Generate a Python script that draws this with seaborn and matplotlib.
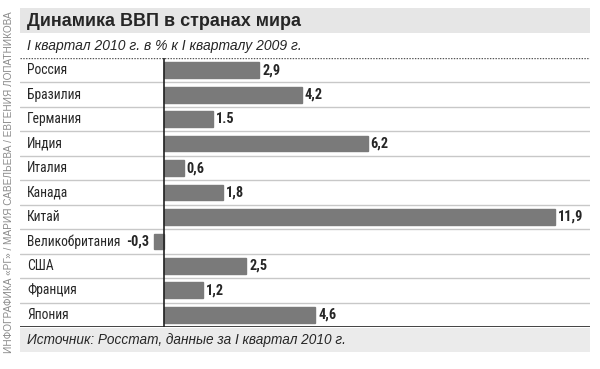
import pandas as pd
import matplotlib
matplotlib.use("Agg")
from matplotlib import pyplot as plt
from matplotlib import font_manager
from matplotlib.patches import Rectangle
import seaborn as sns

# data
countries = ["Россия", "Бразилия", "Германия", "Индия", "Италия", "Канада",
             "Китай", "Великобритания", "США", "Франция", "Япония"]
growth = [2.9, 4.2, 1.5, 6.2, 0.6, 1.8, 11.9, -0.3, 2.5, 1.2, 4.6]
value_labels = ["2,9", "4,2", "1.5", "6,2", "0,6", "1,8", "11,9", "-0,3", "2,5", "1,2", "4,6"]

title = "Динамика ВВП в странах мира"
subtitle = "I квартал 2010 г. в % к I кварталу 2009 г."
source = "Источник: Росстат, данные за I квартал 2010 г."
credit = "ИНФОГРАФИКА «РГ» / МАРИЯ САВЕЛЬЕВА / ЕВГЕНИЯ ЛОПАТНИКОВА"

df = pd.DataFrame({"country": countries, "growth": growth})

sns.set_style("white")
plt.rcParams["font.family"] = ["Liberation Sans", "DejaVu Sans"]

# look for a condensed face, else fall back to a smaller regular one
installed = {f.name for f in font_manager.fontManager.ttflist}
narrow_name = None
for cand in ["Liberation Sans Narrow", "Roboto Condensed", "Open Sans Condensed",
             "DejaVu Sans Condensed", "Noto Sans Condensed"]:
    if cand in installed:
        narrow_name = cand
        break
if narrow_name:
    narrow = [narrow_name, "Liberation Sans", "DejaVu Sans"]
    lab_size, val_size = 9.8, 10.3
else:
    narrow = ["Liberation Sans", "DejaVu Sans"]
    lab_size, val_size = 8.6, 8.6

W, H = 600, 369
fig = plt.figure(figsize=(6, 3.69), dpi=100)

def fx(px):
    return px / W

def fy(py):
    return 1 - py / H

# background bands
fig.patches.append(Rectangle((fx(20), fy(33)), fx(570), 25 / H, transform=fig.transFigure,
                             facecolor="#e6e6e6", edgecolor="none", zorder=0))
fig.patches.append(Rectangle((fx(20), fy(352)), fx(570), 24 / H, transform=fig.transFigure,
                             facecolor="#ebebeb", edgecolor="none", zorder=0))

fig.text(fx(27), fy(21), title, fontsize=13, fontweight="bold", va="center", ha="left")
fig.text(fx(27), fy(46), subtitle, fontsize=10, style="italic", va="center", ha="left")
fig.text(fx(27), fy(340), source, fontsize=9.8, style="italic", va="center", ha="left")
fig.text(fx(9), fy(182), credit, fontsize=7.2, color="#8a8a8a", rotation=90,
         va="center", ha="center")

# chart area: rows from y=58 to y=327, zero at x=164
ax = fig.add_axes([fx(20), fy(327), fx(570), 269 / H])
sns.barplot(data=df, x="growth", y="country", orient="h", color="#7a7a7a",
            saturation=1, width=0.64, edgecolor="#7a7a7a", ax=ax)

scale = 570 / 17.35
ax.set_xlim(-(164 - 20) / scale, -(164 - 20) / scale + 17.35)
ax.set_ylim(len(countries) - 0.5, -0.5)
ax.set_xlabel("")
ax.set_ylabel("")
ax.set_xticks([])
ax.set_yticks([])
for s in ax.spines.values():
    s.set_visible(False)

for i in range(len(countries) - 1):
    ax.axhline(i + 0.5, color="#c8c8c8", lw=1, zorder=0)
ax.axhline(-0.5, color="#555555", lw=1, ls=(0, (1, 1)), zorder=3)
ax.axhline(len(countries) - 0.5, color="#222222", lw=1.2, zorder=3)
ax.axvline(0, color="#222222", lw=1.2, zorder=3)

x0 = ax.get_xlim()[0]
for i, (name, v, lab) in enumerate(zip(countries, growth, value_labels)):
    ax.text(x0 + 7 / scale, i, name, family=narrow, fontsize=lab_size, va="center", ha="left")
    if v >= 0:
        ax.text(v + 3 / scale, i, lab, family=narrow, fontsize=val_size, fontweight="bold",
                va="center", ha="left")
    else:
        ax.text(v - 5 / scale, i, lab, family=narrow, fontsize=val_size, fontweight="bold",
                va="center", ha="right")

fig.savefig("out.png", dpi=100)
